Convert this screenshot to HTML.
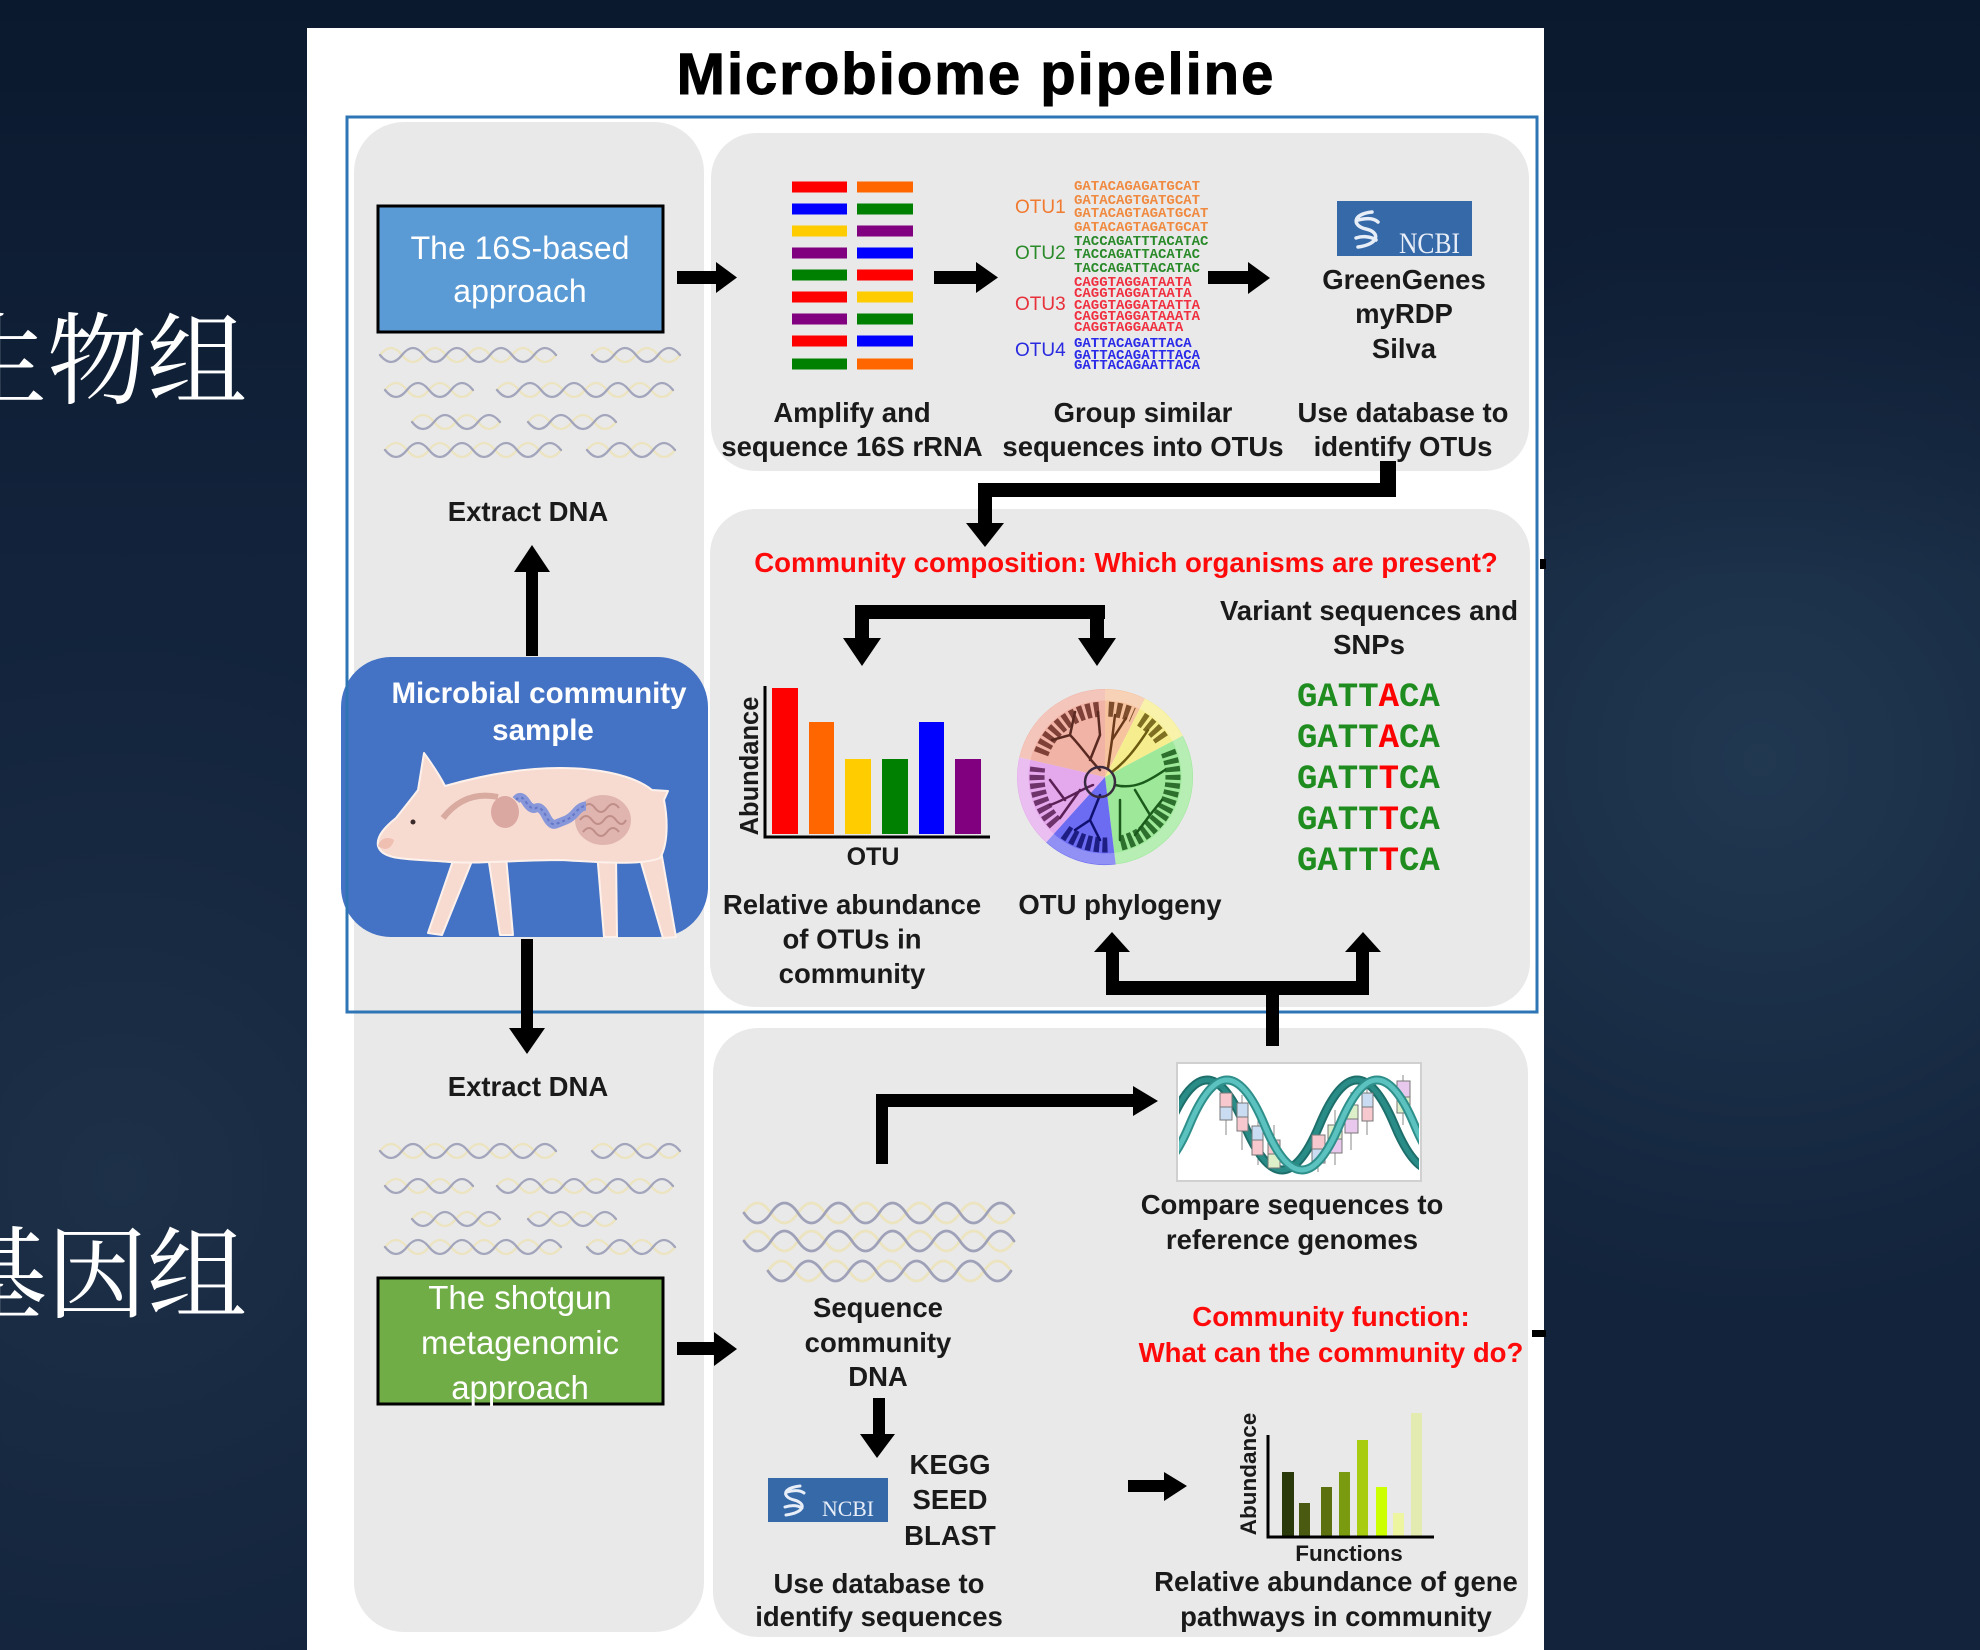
<!DOCTYPE html>
<html><head><meta charset="utf-8"><style>
html,body{margin:0;padding:0;width:1980px;height:1650px;overflow:hidden;background:#11223a;}
svg{display:block}
</style></head><body>
<svg width="1980" height="1650" viewBox="0 0 1980 1650" xmlns="http://www.w3.org/2000/svg">
<defs>
<radialGradient id="g1" cx="1760" cy="760" r="560" gradientUnits="userSpaceOnUse"><stop offset="0" stop-color="#213851"/><stop offset="1" stop-color="#213851" stop-opacity="0"/></radialGradient>
<radialGradient id="g2" cx="120" cy="1180" r="560" gradientUnits="userSpaceOnUse"><stop offset="0" stop-color="#1d3048"/><stop offset="1" stop-color="#1d3048" stop-opacity="0"/></radialGradient>
<linearGradient id="g3" x1="0" y1="0" x2="0" y2="1"><stop offset="0" stop-color="#0b192e"/><stop offset="0.35" stop-color="#0b192e" stop-opacity="0"/><stop offset="1" stop-color="#0b192e" stop-opacity="0"/></linearGradient>
<clipPath id="cb"><rect x="1179" y="1065" width="240" height="114"/></clipPath>
</defs>
<rect width="1980" height="1650" fill="#12233b"/>
<rect width="1980" height="1650" fill="url(#g1)"/>
<rect width="1980" height="1650" fill="url(#g2)"/>
<rect width="1980" height="1650" fill="url(#g3)"/>

<text x="247" y="396" text-anchor="end" font-family="'Noto Serif CJK SC','Liberation Serif',serif" font-size="100" fill="#ffffff">微生物组</text>
<text x="247" y="1310" text-anchor="end" font-family="'Noto Serif CJK SC','Liberation Serif',serif" font-size="100" fill="#ffffff">宏基因组</text>

<rect x="307" y="28" width="1237" height="1622" fill="#ffffff"/>
<text x="976" y="94" text-anchor="middle" font-family="'Liberation Sans',Arial,sans-serif" font-weight="bold" font-size="58" letter-spacing="2" fill="#000" stroke="#000" stroke-width="1">Microbiome pipeline</text>

<!-- gray panels -->
<g fill="#e9e9e9">
<rect x="354" y="122" width="350" height="1510" rx="50"/>
<rect x="711" y="133" width="818" height="338" rx="45"/>
<rect x="710" y="509" width="820" height="498" rx="45"/>
<rect x="713" y="1028" width="815" height="609" rx="45"/>
</g>

<!-- 16S box -->
<rect x="378" y="206" width="285" height="126" fill="#5b9bd5" stroke="#000" stroke-width="3"/>
<g font-family="'Liberation Sans',Arial,sans-serif" font-size="32" fill="#fff" text-anchor="middle">
<text x="520" y="259">The 16S-based</text>
<text x="520" y="302">approach</text>
</g>

<!-- shotgun box -->
<rect x="378" y="1278" width="285" height="126" fill="#70ad47" stroke="#000" stroke-width="3"/>
<g font-family="'Liberation Sans',Arial,sans-serif" font-size="33" fill="#fff" text-anchor="middle">
<text x="520" y="1309">The shotgun</text>
<text x="520" y="1354">metagenomic</text>
<text x="520" y="1399">approach</text>
</g>

<!-- DNA squiggles left -->
<g fill="none" stroke-width="2.3" stroke-linecap="round">
<g stroke="#ece3bf">
<path d="M380 355 q11 -14 22 0 t22 0 t22 0 t22 0 t22 0 t22 0 t22 0 t22 0"/>
<path d="M592 355 q11 -14 22 0 t22 0 t22 0 t22 0"/>
<path d="M385 390 q11 -14 22 0 t22 0 t22 0 t22 0"/>
<path d="M497 390 q11 -14 22 0 t22 0 t22 0 t22 0 t22 0 t22 0 t22 0 t22 0"/>
<path d="M412 422 q11 -14 22 0 t22 0 t22 0 t22 0"/>
<path d="M528 422 q11 -14 22 0 t22 0 t22 0 t22 0"/>
<path d="M385 450 q11 -14 22 0 t22 0 t22 0 t22 0 t22 0 t22 0 t22 0 t22 0"/>
<path d="M587 450 q11 -14 22 0 t22 0 t22 0 t22 0"/>
<path d="M380 1151 q11 -14 22 0 t22 0 t22 0 t22 0 t22 0 t22 0 t22 0 t22 0"/>
<path d="M592 1151 q11 -14 22 0 t22 0 t22 0 t22 0"/>
<path d="M385 1186 q11 -14 22 0 t22 0 t22 0 t22 0"/>
<path d="M497 1186 q11 -14 22 0 t22 0 t22 0 t22 0 t22 0 t22 0 t22 0 t22 0"/>
<path d="M412 1219 q11 -14 22 0 t22 0 t22 0 t22 0"/>
<path d="M528 1219 q11 -14 22 0 t22 0 t22 0 t22 0"/>
<path d="M385 1247 q11 -14 22 0 t22 0 t22 0 t22 0 t22 0 t22 0 t22 0 t22 0"/>
<path d="M587 1247 q11 -14 22 0 t22 0 t22 0 t22 0"/>
</g>
<g stroke="#a2a5bb">
<path d="M380 355 q11 14 22 0 t22 0 t22 0 t22 0 t22 0 t22 0 t22 0 t22 0"/>
<path d="M592 355 q11 14 22 0 t22 0 t22 0 t22 0"/>
<path d="M385 390 q11 14 22 0 t22 0 t22 0 t22 0"/>
<path d="M497 390 q11 14 22 0 t22 0 t22 0 t22 0 t22 0 t22 0 t22 0 t22 0"/>
<path d="M412 422 q11 14 22 0 t22 0 t22 0 t22 0"/>
<path d="M528 422 q11 14 22 0 t22 0 t22 0 t22 0"/>
<path d="M385 450 q11 14 22 0 t22 0 t22 0 t22 0 t22 0 t22 0 t22 0 t22 0"/>
<path d="M587 450 q11 14 22 0 t22 0 t22 0 t22 0"/>
<path d="M380 1151 q11 14 22 0 t22 0 t22 0 t22 0 t22 0 t22 0 t22 0 t22 0"/>
<path d="M592 1151 q11 14 22 0 t22 0 t22 0 t22 0"/>
<path d="M385 1186 q11 14 22 0 t22 0 t22 0 t22 0"/>
<path d="M497 1186 q11 14 22 0 t22 0 t22 0 t22 0 t22 0 t22 0 t22 0 t22 0"/>
<path d="M412 1219 q11 14 22 0 t22 0 t22 0 t22 0"/>
<path d="M528 1219 q11 14 22 0 t22 0 t22 0 t22 0"/>
<path d="M385 1247 q11 14 22 0 t22 0 t22 0 t22 0 t22 0 t22 0 t22 0 t22 0"/>
<path d="M587 1247 q11 14 22 0 t22 0 t22 0 t22 0"/>
</g>
<!-- community DNA helices -->
<g stroke-width="2.8">
<path stroke="#ece3bf" d="M744 1213 q13.5 -20 27 0 t27 0 t27 0 t27 0 t27 0 t27 0 t27 0 t27 0 t27 0 t27 0"/>
<path stroke="#ece3bf" d="M744 1241 q13.5 -20 27 0 t27 0 t27 0 t27 0 t27 0 t27 0 t27 0 t27 0 t27 0 t27 0"/>
<path stroke="#ece3bf" d="M768 1271 q13.5 -20 27 0 t27 0 t27 0 t27 0 t27 0 t27 0 t27 0 t27 0 t27 0"/>
<path stroke="#9ea1b8" d="M744 1213 q13.5 20 27 0 t27 0 t27 0 t27 0 t27 0 t27 0 t27 0 t27 0 t27 0 t27 0"/>
<path stroke="#9ea1b8" d="M744 1241 q13.5 20 27 0 t27 0 t27 0 t27 0 t27 0 t27 0 t27 0 t27 0 t27 0 t27 0"/>
<path stroke="#9ea1b8" d="M768 1271 q13.5 20 27 0 t27 0 t27 0 t27 0 t27 0 t27 0 t27 0 t27 0 t27 0"/>
</g>
</g>

<!-- sample box -->
<rect x="341" y="657" width="367" height="280" rx="50" fill="#4472c4"/>
<g font-family="'Liberation Sans',Arial,sans-serif" font-weight="bold" font-size="29.5" fill="#fff" text-anchor="middle">
<text x="539" y="703">Microbial community</text>
<text x="543" y="740">sample</text>
</g>
<!-- pig -->
<g fill="#f7dbd0" stroke="#fdf1ec" stroke-width="2" stroke-linejoin="round">
<path d="M456,852 L474,856 L442,935 L428,933 Z"/>
<path d="M488,856 L506,856 L513,935 L500,935 Z"/>
<path d="M597,852 L616,855 L617,937 L604,937 Z"/>
<path d="M636,845 L660,845 L676,937 L663,938 Z"/>
<path d="M378,846 C376,836 386,826 396,818 C404,808 412,798 418,790 L424,753 C432,764 440,776 445,786 C480,776 520,768 560,768 C600,768 635,776 652,790 L668,791 L664,800 C668,820 668,845 660,858 C640,866 600,862 560,860 C520,860 480,864 450,862 C430,860 405,860 393,857 C385,855 380,852 378,846 Z"/>
</g>
<path d="M378,846 C380,838 388,836 394,840 C392,848 386,852 378,846Z" fill="#efbfb2"/>
<circle cx="413" cy="822" r="2.5" fill="#3a2a2a"/>
<path d="M443,818 Q465,790 498,797" fill="none" stroke="#d9aaa0" stroke-width="6"/>
<ellipse cx="505" cy="812" rx="14" ry="16" fill="#dba8a1"/>
<ellipse cx="603" cy="820" rx="28" ry="25" fill="#dcaea9" opacity="0.85"/>
<path d="M583,808 q6,-8 12,0 t12,0 t12,0 M580,820 q6,-8 12,0 t12,0 t12,0 t10,0 M583,832 q6,-8 12,0 t12,0 t12,0" fill="none" stroke="#c08e88" stroke-width="2"/>
<path d="M516,800 q5,-6 10,2 t10,6 t10,8 t10,8 t10,-4 t10,-8 t10,-6" fill="none" stroke="#8797da" stroke-width="9" stroke-linejoin="round"/>
<path d="M516,800 q5,-6 10,2 t10,6 t10,8 t10,8 t10,-4 t10,-8 t10,-6" fill="none" stroke="#6577c6" stroke-width="2" stroke-dasharray="3 3"/>

<!-- blue outline -->
<rect x="347" y="117" width="1190" height="895" fill="none" stroke="#2e75b6" stroke-width="3"/>

<!-- bars top panel -->
<g>
<rect x="792" y="181.5" width="55" height="11" fill="#ff0000"/><rect x="857" y="181.5" width="56" height="11" fill="#ff6600"/>
<rect x="792" y="203.5" width="55" height="11" fill="#0000ff"/><rect x="857" y="203.5" width="56" height="11" fill="#008000"/>
<rect x="792" y="225.5" width="55" height="11" fill="#ffcc00"/><rect x="857" y="225.5" width="56" height="11" fill="#800080"/>
<rect x="792" y="247.5" width="55" height="11" fill="#800080"/><rect x="857" y="247.5" width="56" height="11" fill="#0000ff"/>
<rect x="792" y="269.5" width="55" height="11" fill="#008000"/><rect x="857" y="269.5" width="56" height="11" fill="#ff0000"/>
<rect x="792" y="291.5" width="55" height="11" fill="#ff0000"/><rect x="857" y="291.5" width="56" height="11" fill="#ffcc00"/>
<rect x="792" y="313.5" width="55" height="11" fill="#800080"/><rect x="857" y="313.5" width="56" height="11" fill="#008000"/>
<rect x="792" y="335.5" width="55" height="11" fill="#ff0000"/><rect x="857" y="335.5" width="56" height="11" fill="#0000ff"/>
<rect x="792" y="358.5" width="55" height="11" fill="#008000"/><rect x="857" y="358.5" width="56" height="11" fill="#ff6600"/>
</g>

<!-- OTU labels and sequences -->
<g font-family="'Liberation Sans',Arial,sans-serif" font-size="19">
<text x="1015" y="213" fill="#f07a30">OTU1</text>
<text x="1015" y="259" fill="#2a8a2a">OTU2</text>
<text x="1015" y="310" fill="#e8303a">OTU3</text>
<text x="1015" y="356" fill="#2a2ae0">OTU4</text>
</g>
<g font-family="'Liberation Mono','Courier New',monospace" font-size="14" font-weight="bold">
<g fill="#f08a40">
<text x="1074" y="190">GATACAGAGATGCAT</text>
<text x="1074" y="204">GATACAGTGATGCAT</text>
<text x="1074" y="217">GATACAGTAGATGCAT</text>
<text x="1074" y="231">GATACAGTAGATGCAT</text>
</g>
<g fill="#2a8a2a">
<text x="1074" y="245">TACCAGATTTACATAC</text>
<text x="1074" y="258">TACCAGATTACATAC</text>
<text x="1074" y="272">TACCAGATTACATAC</text>
</g>
<g fill="#f03040">
<text x="1074" y="286">CAGGTAGGATAATA</text>
<text x="1074" y="297">CAGGTAGGATAATA</text>
<text x="1074" y="309">CAGGTAGGATAATTA</text>
<text x="1074" y="320">CAGGTAGGATAAATA</text>
<text x="1074" y="331">CAGGTAGGAAATA</text>
</g>
<g fill="#2a2ae8">
<text x="1074" y="347">GATTACAGATTACA</text>
<text x="1074" y="359">GATTACAGATTTACA</text>
<text x="1074" y="369">GATTACAGAATTACA</text>
</g>
</g>

<!-- NCBI logos -->
<rect x="1337" y="201" width="135" height="55" fill="#3669a8"/>
<path d="M1372,212 C1352,214 1352,226 1366,229 C1380,232 1380,244 1358,247 M1358,220 C1366,218 1374,218 1378,222 M1356,238 C1362,236 1370,236 1376,240" fill="none" stroke="#e8eef7" stroke-width="3.5" stroke-linecap="round"/>
<text x="1399" y="253" font-family="'Liberation Serif','Times New Roman',serif" font-size="30" fill="#e8eef7" textLength="61" lengthAdjust="spacingAndGlyphs">NCBI</text>
<rect x="768" y="1478" width="120" height="44" fill="#3669a8"/>
<path d="M800,1486 C782,1488 782,1497 794,1500 C806,1503 806,1512 786,1515 M787,1492 C794,1490 800,1490 804,1493 M785,1507 C791,1505 797,1505 802,1508" fill="none" stroke="#e8eef7" stroke-width="3" stroke-linecap="round"/>
<text x="822" y="1516" font-family="'Liberation Serif','Times New Roman',serif" font-size="22" fill="#e8eef7" textLength="52" lengthAdjust="spacingAndGlyphs">NCBI</text>

<!-- black labels -->
<g font-family="'Liberation Sans',Arial,sans-serif" font-weight="bold" font-size="27.5" fill="#1a1a1a" text-anchor="middle">
<text x="1404" y="289">GreenGenes</text>
<text x="1404" y="323">myRDP</text>
<text x="1404" y="358">Silva</text>
<text x="852" y="422">Amplify and</text>
<text x="852" y="456">sequence 16S rRNA</text>
<text x="1143" y="422">Group similar</text>
<text x="1143" y="456">sequences into OTUs</text>
<text x="1403" y="422">Use database to</text>
<text x="1403" y="456">identify OTUs</text>
<text x="528" y="521">Extract DNA</text>
<text x="528" y="1096">Extract DNA</text>
<text x="1369" y="620">Variant sequences and</text>
<text x="1369" y="654">SNPs</text>
<text x="852" y="914">Relative abundance</text>
<text x="852" y="948.5">of  OTUs in</text>
<text x="852" y="983">community</text>
<text x="1120" y="914">OTU phylogeny</text>
<text x="1292" y="1214">Compare sequences to</text>
<text x="1292" y="1249">reference genomes</text>
<text x="878" y="1317">Sequence</text>
<text x="878" y="1352">community</text>
<text x="878" y="1386">DNA</text>
<text x="950" y="1474">KEGG</text>
<text x="950" y="1509">SEED</text>
<text x="950" y="1545">BLAST</text>
<text x="879" y="1593">Use database to</text>
<text x="879" y="1626">identify sequences</text>
<text x="1336" y="1591">Relative abundance of gene</text>
<text x="1336" y="1626">pathways in community</text>
<text x="873" y="865" font-size="25">OTU</text>
<text x="1349" y="1561" font-size="22.5">Functions</text>
<text transform="translate(758,766) rotate(-90)" font-size="25.5">Abundance</text>
<text transform="translate(1256,1474) rotate(-90)" font-size="22.5">Abundance</text>
</g>
<g font-family="'Liberation Sans',Arial,sans-serif" font-weight="bold" font-size="27.6" fill="#ff0a0a" text-anchor="middle">
<text x="1126" y="572">Community composition: Which organisms are present?</text>
<text x="1331" y="1326">Community function:</text>
<text x="1331" y="1362">What can the community do?</text>
</g>

<!-- GATTACA -->
<g font-family="'Liberation Mono','Courier New',monospace" font-weight="bold" font-size="34" fill="#1e8c1e">
<text x="1297" y="706">GATT<tspan fill="#ff0000">A</tspan>CA</text>
<text x="1297" y="747">GATT<tspan fill="#ff0000">A</tspan>CA</text>
<text x="1297" y="788">GATT<tspan fill="#ff0000">T</tspan>CA</text>
<text x="1297" y="829">GATT<tspan fill="#ff0000">T</tspan>CA</text>
<text x="1297" y="870">GATT<tspan fill="#ff0000">T</tspan>CA</text>
</g>

<!-- OTU bar chart -->
<rect x="772" y="688" width="26" height="146" fill="#ff0000"/>
<rect x="809" y="722" width="25" height="112" fill="#ff6600"/>
<rect x="845" y="759" width="26" height="75" fill="#ffcc00"/>
<rect x="882" y="759" width="26" height="75" fill="#008000"/>
<rect x="919" y="722" width="25" height="112" fill="#0000ff"/>
<rect x="955" y="759" width="26" height="75" fill="#800080"/>
<path d="M765,686 V837 H990" fill="none" stroke="#000" stroke-width="3"/>

<!-- phylogeny -->
<g>
<path d="M1105,777 L1105,689 A88,88 0 0 1 1145,698.6 Z" fill="#f6c39e"/>
<path d="M1105,777 L1145,698.6 A88,88 0 0 1 1182.7,735.7 Z" fill="#f6ee8e"/>
<path d="M1105,777 L1182.7,735.7 A88,88 0 0 1 1115.7,864.4 Z" fill="#9ee89a"/>
<path d="M1105,777 L1115.7,864.4 A88,88 0 0 1 1046.1,842.4 Z" fill="#6c6cf2"/>
<path d="M1105,777 L1046.1,842.4 A88,88 0 0 1 1019.3,757.2 Z" fill="#e4a8ec"/>
<path d="M1105,777 L1019.3,757.2 A88,88 0 0 1 1105,689 Z" fill="#f1b3a5"/>
<g fill="none" stroke-width="15" stroke-dasharray="5 3" opacity="0.85">
<path d="M1041.1,753.7 A68,68 0 0 1 1099.1,709.3" stroke="#6a2c24"/>
<path d="M1108.6,709.1 A68,68 0 0 1 1132.7,714.9" stroke="#6b3a1a"/>
<path d="M1141,719.3 A68,68 0 0 1 1162,739.9" stroke="#6b5a10"/>
<path d="M1168,751.5 A68,68 0 0 1 1119.1,843.5" stroke="#1a5a1a"/>
<path d="M1107.4,845 A68,68 0 0 1 1064.1,831.3" stroke="#101070"/>
<path d="M1055.3,823.4 A68,68 0 0 1 1037.7,767.5" stroke="#5a1f55"/>
</g>
<circle cx="1105" cy="777" r="82" fill="none" stroke="#ffffff" stroke-width="11" opacity="0.25"/>
<g fill="none" stroke-width="2.5" stroke-linecap="round">
<path stroke="#5a2a22" d="M1100,770 C1090,760 1080,745 1070,735 L1052,740 M1070,735 L1075,712 M1090,760 L1100,735 L1098,712"/>
<path stroke="#6b3a1a" d="M1108,768 L1112,740 L1115,715 M1112,740 L1126,718"/>
<path stroke="#6b5a10" d="M1112,772 C1125,762 1135,750 1148,730"/>
<path stroke="#1a5a1a" d="M1115,785 C1135,790 1150,780 1165,770 M1135,790 L1150,815 L1162,800 M1150,815 L1135,835 M1120,800 L1120,840"/>
<path stroke="#101070" d="M1100,795 L1090,820 L1075,830 M1090,820 L1100,840"/>
<path stroke="#5a1f55" d="M1093,785 C1080,790 1065,800 1050,805 M1065,800 L1050,780 M1080,790 L1060,818"/>
<circle cx="1100" cy="782" r="15" stroke="#3a2a40"/>
</g>
</g>

<!-- compare box with helix -->
<rect x="1177" y="1063" width="244" height="118" fill="#ffffff" stroke="#d0d0d0" stroke-width="2"/>
<g clip-path="url(#cb)">
<g stroke="#888" stroke-width="1">
<line x1="1226" y1="1088" x2="1226" y2="1135"/><line x1="1242" y1="1095" x2="1242" y2="1150"/>
<line x1="1258" y1="1110" x2="1258" y2="1165"/><line x1="1274" y1="1125" x2="1274" y2="1172"/>
<line x1="1318" y1="1125" x2="1318" y2="1172"/><line x1="1335" y1="1110" x2="1335" y2="1165"/>
<line x1="1351" y1="1092" x2="1351" y2="1150"/><line x1="1367" y1="1085" x2="1367" y2="1135"/>
<line x1="1403" y1="1075" x2="1403" y2="1125"/>
</g>
<path d="M1094.5,1125 q37.5,90 75,0 t75,0 t75,0 t75,0 t75,0" fill="none" stroke="#1e6f6b" stroke-width="9"/>
<path d="M1094.5,1125 q37.5,90 75,0 t75,0 t75,0 t75,0 t75,0" fill="none" stroke="#2a8c87" stroke-width="5"/>
<g stroke="#777" stroke-width="1">
<rect x="1220" y="1093" width="12" height="14" fill="#f7c9cf"/><rect x="1220" y="1107" width="12" height="13" fill="#c9dcf2"/>
<rect x="1237" y="1103" width="11" height="14" fill="#c9dcf2"/><rect x="1237" y="1117" width="11" height="14" fill="#f7c9cf"/>
<rect x="1252" y="1126" width="11" height="14" fill="#c9dcf2"/><rect x="1252" y="1140" width="11" height="15" fill="#f7c9cf"/>
<rect x="1268" y="1140" width="12" height="14" fill="#f7c9cf"/><rect x="1268" y="1154" width="12" height="14" fill="#dcefc8"/>
<rect x="1312" y="1135" width="13" height="14" fill="#f7c9cf"/><rect x="1312" y="1149" width="13" height="14" fill="#c9dcf2"/>
<rect x="1328" y="1125" width="14" height="14" fill="#dcefc8"/><rect x="1328" y="1139" width="14" height="14" fill="#e8c8ec"/>
<rect x="1345" y="1105" width="13" height="14" fill="#dcefc8"/><rect x="1345" y="1119" width="13" height="14" fill="#e8c8ec"/>
<rect x="1362" y="1093" width="11" height="14" fill="#c9dcf2"/><rect x="1362" y="1107" width="11" height="14" fill="#f7c9cf"/>
<rect x="1397" y="1081" width="13" height="16" fill="#e8c8ec"/><rect x="1397" y="1097" width="13" height="16" fill="#dcefc8"/>
</g>
<path d="M1114.5,1125 q37.5,90 75,0 t75,0 t75,0 t75,0 t75,0" fill="none" stroke="#2f8f8b" stroke-width="9"/>
<path d="M1114.5,1125 q37.5,90 75,0 t75,0 t75,0 t75,0 t75,0" fill="none" stroke="#5cc2bf" stroke-width="5"/>
</g>

<!-- function bar chart -->
<rect x="1282" y="1472" width="12" height="65" fill="#2b3a0a"/>
<rect x="1299" y="1503" width="11" height="34" fill="#4a5a10"/>
<rect x="1321" y="1487" width="11" height="50" fill="#5c7010"/>
<rect x="1339" y="1472" width="11" height="65" fill="#7a9a10"/>
<rect x="1357" y="1440" width="11" height="97" fill="#a8cc10"/>
<rect x="1376" y="1487" width="11" height="50" fill="#ccff00"/>
<rect x="1393" y="1513" width="11" height="24" fill="#eef5a0"/>
<rect x="1411" y="1413" width="11" height="124" fill="#e3ebb0"/>
<path d="M1268,1435 V1537 H1434" fill="none" stroke="#000" stroke-width="3"/>

<!-- arrows -->
<g fill="#000">
<rect x="526" y="568" width="12" height="88"/><polygon points="514,572 550,572 532,545"/>
<rect x="677" y="271" width="41" height="13"/><polygon points="716,262 716,293 737,277.5"/>
<rect x="934" y="271" width="44" height="13"/><polygon points="976,262 976,293 998,277.5"/>
<rect x="1208" y="271" width="42" height="13"/><polygon points="1248,262 1248,294 1270,278"/>
<rect x="1380" y="461" width="16" height="36"/>
<rect x="978" y="483" width="418" height="14"/>
<rect x="978" y="483" width="14" height="42"/>
<polygon points="966,523 1004,523 985,547"/>
<rect x="855" y="605" width="250" height="14"/>
<rect x="855" y="605" width="14" height="35"/><polygon points="843,638 881,638 862,666"/>
<rect x="1090" y="605" width="14" height="35"/><polygon points="1078,638 1116,638 1097,666"/>
<rect x="521" y="939" width="12" height="92"/><polygon points="509,1028 545,1028 527,1054"/>
<rect x="1266" y="985" width="13" height="61"/>
<rect x="1106" y="981" width="263" height="14"/>
<rect x="1106" y="950" width="13" height="45"/><polygon points="1094,952 1130,952 1112,932"/>
<rect x="1356" y="950" width="13" height="45"/><polygon points="1345,952 1381,952 1363,932"/>
<rect x="876" y="1094" width="12" height="70"/>
<rect x="876" y="1094" width="259" height="13"/><polygon points="1133,1086 1133,1116 1158,1101"/>
<rect x="677" y="1342" width="39" height="13"/><polygon points="714,1332 714,1366 737,1349"/>
<rect x="873" y="1398" width="12" height="38"/><polygon points="860,1434 895,1434 877,1458"/>
<rect x="1128" y="1480" width="38" height="12"/><polygon points="1164,1472 1164,1501 1187,1486"/>
<rect x="1540" y="559" width="6" height="10"/>
<rect x="1532" y="1330" width="14" height="7"/>
</g>
</svg>
</body></html>
